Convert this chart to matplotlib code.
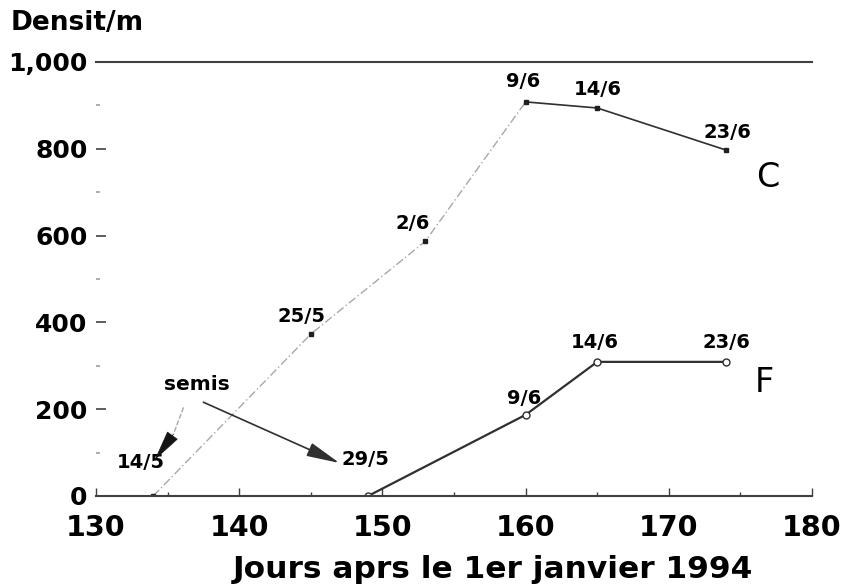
import numpy as np
import matplotlib.pyplot as plt
import matplotlib.transforms as mtrans
from matplotlib.ticker import MultipleLocator, FuncFormatter

plt.rcParams['font.family'] = ['DejaVu Sans']

# Culture C
c_days = [134, 145, 153, 160, 165, 174]
c_dens = [0, 373, 587, 908, 894, 797]
c_dates = ['14/5', '25/5', '2/6', '9/6', '14/6', '23/6']

# Culture F
f_days = [149, 160, 165, 174]
f_dens = [0, 187, 309, 309]
f_dates = ['29/5', '9/6', '14/6', '23/6']

fig = plt.figure(figsize=(8.45, 5.88), dpi=100)
ax = fig.add_axes([0.1136, 0.1565, 0.8474, 0.7381])

# C: rising part light dashed, then solid
ax.plot(c_days[:4], c_dens[:4], color='#a8a8a8', lw=1.0, ls=(0, (6, 2, 1, 2)))
ax.plot(c_days[3:], c_dens[3:], color='#303030', lw=1.2)
ax.plot(c_days, c_dens, ls='none', marker='s', ms=3.5, color='#202020')

# F
ax.plot(f_days, f_dens, color='#303030', lw=1.6, marker='o', ms=5,
        mfc='white', mec='#303030', mew=1)

# point labels (offsets in points)
c_off = [(-9, 24), (-7, 12.5), (-9, 13), (-2, 14.5), (0.7, 13), (0.7, 12.5)]
for d, v, t, o in zip(c_days, c_dens, c_dates, c_off):
    ax.annotate(t, (d, v), xytext=o, textcoords='offset points',
                ha='center', va='center', fontsize=14, fontweight='bold')
f_off = [(-2, 26), (-1, 11.5), (-1.4, 13.7), (0, 13.7)]
for d, v, t, o in zip(f_days, f_dens, f_dates, f_off):
    ax.annotate(t, (d, v), xytext=o, textcoords='offset points',
                ha='center', va='center', fontsize=14, fontweight='bold')

ax.text(176.9, 733, 'C', fontsize=24, ha='center', va='center')
ax.text(176.7, 262, 'F', fontsize=24, ha='center', va='center')

# semis arrows
ax.text(137.05, 256, 'semis', fontsize=14.5, fontweight='bold',
        ha='center', va='center')
head = '-|>,head_length=0.85,head_width=0.18'
# grey dashed shaft + black head towards 14/5
ax.annotate('', xy=(135.4, 142), xytext=(136.1, 203),
            arrowprops=dict(arrowstyle='-', color='#a8a8a8', lw=1,
                            ls=(0, (3, 2)), shrinkA=0, shrinkB=0))
ax.annotate('', xy=(134.1, 83), xytext=(135.4, 142),
            arrowprops=dict(arrowstyle=head, fc='#151515', ec='#151515',
                            lw=0.5, mutation_scale=24, shrinkA=0, shrinkB=0))
# solid arrow towards 29/5
ax.annotate('', xy=(147.0, 76), xytext=(137.5, 216),
            arrowprops=dict(arrowstyle=head, color='#303030', lw=1.2,
                            mutation_scale=24, shrinkA=0, shrinkB=0))

ax.set_xlim(130, 180)
ax.set_ylim(0, 1000)
ax.xaxis.set_major_locator(MultipleLocator(10))
ax.xaxis.set_minor_locator(MultipleLocator(5))
ax.yaxis.set_major_locator(MultipleLocator(200))
ax.yaxis.set_minor_locator(MultipleLocator(100))
ax.yaxis.set_major_formatter(FuncFormatter(lambda v, p: f'{int(v):,}'))

ax.tick_params(axis='x', which='both', direction='in', length=6, width=1,
               labelsize=20.5, pad=13, colors='#404040', labelcolor='black')
ax.tick_params(axis='x', which='minor', length=3)
ax.tick_params(axis='y', which='major', direction='in', length=7, width=1.3,
               labelsize=18, pad=6, colors='#505050', labelcolor='black')
ax.tick_params(axis='y', which='minor', direction='in', length=3, width=1.2,
               colors='#a0a0a0')

for s in ['left', 'right']:
    ax.spines[s].set_visible(False)
ax.spines['top'].set_color('#404040')
ax.spines['top'].set_linewidth(1.5)
ax.spines['bottom'].set_color('#404040')
ax.spines['bottom'].set_linewidth(1.5)

for lab in ax.get_xticklabels() + ax.get_yticklabels():
    lab.set_fontweight('bold')

# the "0" label sits a little below the axis line in the original
fig.canvas.draw()
ylabs = ax.get_yticklabels()
shift = mtrans.ScaledTranslation(0, -4 / 72, fig.dpi_scale_trans)
ylabs[0].set_transform(ylabs[0].get_transform() + shift)

ax.set_xlabel('Jours aprs le 1er janvier 1994', fontsize=22.5,
              fontweight='bold')
ax.xaxis.set_label_coords(0.554, -0.135)
fig.text(0.012, 0.961, 'Densit/m', fontsize=19, fontweight='bold',
         ha='left', va='center')

fig.savefig('out.png', dpi=100)
